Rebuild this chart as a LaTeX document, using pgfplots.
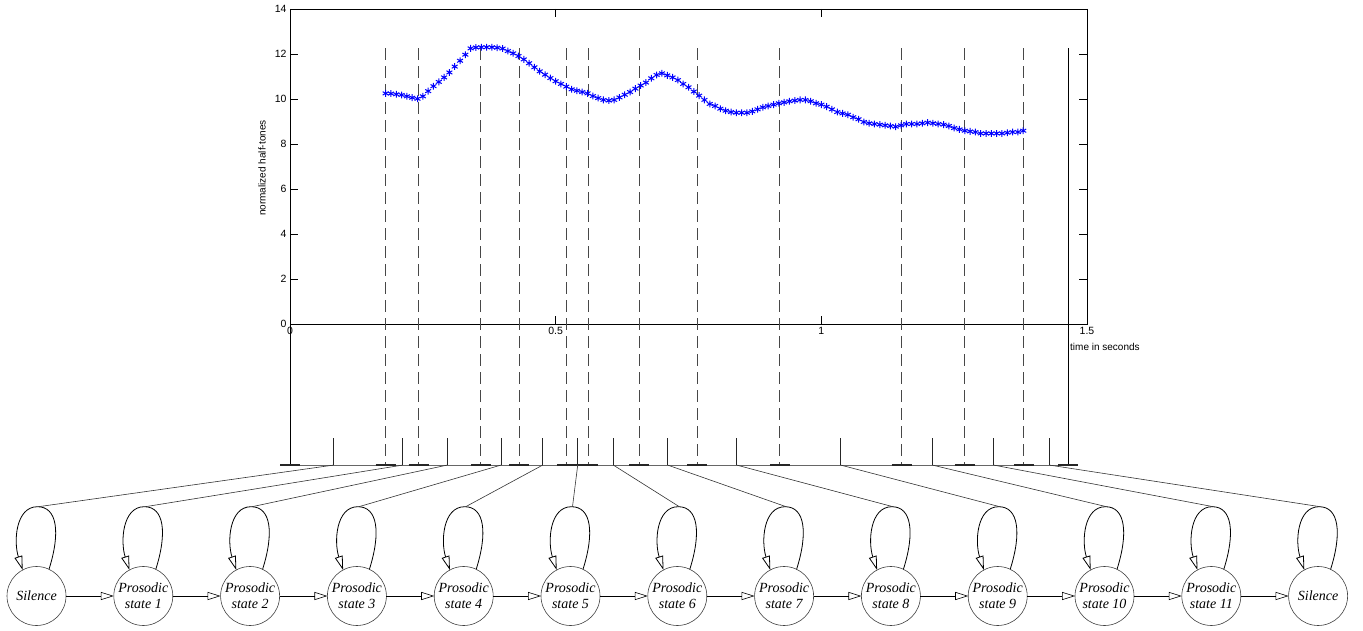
\documentclass[border=0pt]{standalone}
\usepackage{fontspec}
\setmainfont{Liberation Sans}
\newfontfamily\tnr{Liberation Serif}
\usepackage{pgfplots}
\pgfplotsset{compat=1.18}
\usepackage{pgfplotstable}
\usetikzlibrary{arrows.meta}

\pgfplotstableread{
t y
0.18 10.25
0.19 10.24
0.20 10.21
0.21 10.18
0.22 10.12
0.23 10.06
0.24 10.01
0.25 10.12
0.26 10.35
0.27 10.57
0.28 10.76
0.29 10.96
0.30 11.18
0.31 11.44
0.32 11.70
0.33 11.97
0.34 12.25
0.35 12.29
0.36 12.30
0.37 12.30
0.38 12.30
0.39 12.28
0.40 12.24
0.41 12.13
0.42 12.03
0.43 11.91
0.44 11.76
0.45 11.59
0.46 11.41
0.47 11.23
0.48 11.08
0.49 10.93
0.50 10.79
0.51 10.67
0.52 10.55
0.53 10.43
0.54 10.37
0.55 10.31
0.56 10.25
0.57 10.13
0.58 10.04
0.59 9.96
0.60 9.93
0.61 9.96
0.62 10.07
0.63 10.19
0.64 10.31
0.65 10.46
0.66 10.60
0.67 10.73
0.68 10.92
0.69 11.07
0.70 11.14
0.71 11.05
0.72 10.96
0.73 10.84
0.74 10.67
0.75 10.52
0.76 10.33
0.77 10.15
0.78 9.96
0.79 9.78
0.80 9.69
0.81 9.57
0.82 9.48
0.83 9.42
0.84 9.39
0.85 9.39
0.86 9.39
0.87 9.45
0.88 9.54
0.89 9.63
0.90 9.69
0.91 9.75
0.92 9.81
0.93 9.85
0.94 9.90
0.95 9.93
0.96 9.96
0.97 9.96
0.98 9.90
0.99 9.81
1.00 9.75
1.01 9.66
1.02 9.54
1.03 9.42
1.04 9.36
1.05 9.30
1.06 9.19
1.07 9.10
1.08 8.98
1.09 8.92
1.10 8.89
1.11 8.86
1.12 8.83
1.13 8.80
1.14 8.77
1.15 8.83
1.16 8.89
1.17 8.89
1.18 8.89
1.19 8.92
1.20 8.95
1.21 8.92
1.22 8.89
1.23 8.86
1.24 8.80
1.25 8.71
1.26 8.65
1.27 8.59
1.28 8.56
1.29 8.53
1.30 8.47
1.31 8.47
1.32 8.47
1.33 8.47
1.34 8.47
1.35 8.50
1.36 8.53
1.37 8.53
1.38 8.59
}\pitch

\begin{document}
\begin{tikzpicture}
\path[use as bounding box] (0,0) rectangle (1363pt,630pt);
\begin{axis}[
  at={(290pt,306pt)}, anchor=south west,
  scale only axis, width=797pt, height=315pt,
  xmin=0, xmax=1.5, ymin=0, ymax=14,
  xtick={0,0.5,1,1.5}, ytick={0,2,...,14},
  tick align=inside, major tick length=8pt,
  tick style={black, line width=0.7pt},
  axis line style={line width=0.8pt},
  ticklabel style={font=\fontsize{10.5}{12}\selectfont},
  /pgf/number format/assume math mode=true,
  clip=false,
]
% segment boundaries (dashed)
\pgfplotsinvokeforeach{0.180,0.242,0.359,0.431,0.521,0.561,0.657,0.766,0.922,1.151,1.270,1.381}{
  \draw[black!72, line width=0.9pt, dash pattern=on 12pt off 6pt] (axis cs:#1,12.25) -- (axis cs:#1,-6.27);
}
% solid end line and left extension
\draw[line width=0.8pt] (axis cs:1.465,12.25) -- (axis cs:1.465,-6.27);
\draw[line width=0.8pt] (axis cs:0,0) -- (axis cs:0,-6.27);
% baseline of segmentation
\draw[black!60, line width=0.7pt] (axis cs:-0.019,-6.27) -- (axis cs:1.48,-6.27);
\pgfplotsinvokeforeach{0,0.180,0.242,0.359,0.431,0.521,0.561,0.657,0.766,0.922,1.151,1.270,1.381,1.465}{
  \draw[black!85, line width=1.3pt] ([xshift=-10pt]axis cs:#1,-6.27) -- ([xshift=10pt]axis cs:#1,-6.27);
}
% segment mid ticks
\pgfplotsinvokeforeach{0.0822,0.2121,0.2960,0.3971,0.4756,0.5415,0.6085,0.7109,0.8407,1.0364,1.2089,1.3244,1.4291}{
  \draw[black!85, line width=0.7pt] (axis cs:#1,-6.27) -- (axis cs:#1,-5.05);
}
\coordinate (m0) at (axis cs:0.0822,-6.27);
\coordinate (m1) at (axis cs:0.2121,-6.27);
\coordinate (m2) at (axis cs:0.2960,-6.27);
\coordinate (m3) at (axis cs:0.3971,-6.27);
\coordinate (m4) at (axis cs:0.4756,-6.27);
\coordinate (m5) at (axis cs:0.5415,-6.27);
\coordinate (m6) at (axis cs:0.6085,-6.27);
\coordinate (m7) at (axis cs:0.7109,-6.27);
\coordinate (m8) at (axis cs:0.8407,-6.27);
\coordinate (m9) at (axis cs:1.0364,-6.27);
\coordinate (m10) at (axis cs:1.2089,-6.27);
\coordinate (m11) at (axis cs:1.3244,-6.27);
\coordinate (m12) at (axis cs:1.4291,-6.27);
\addplot[only marks, mark=asterisk, mark size=3.4pt, color=blue, mark options={line width=1pt}] table[x=t,y=y]{\pitch};
\end{axis}

\node[rotate=90, font=\fontsize{10}{12}\selectfont] at (262pt,462pt) {normalized half-tones};
\node[anchor=west, inner sep=0pt, font=\fontsize{10}{12}\selectfont] at (1070pt,283pt) {time in seconds};

% HMM states
\foreach \k/\lab in {0/{Silence},1/{Prosodic\\state 1},2/{Prosodic\\state 2},3/{Prosodic\\state 3},4/{Prosodic\\state 4},5/{Prosodic\\state 5},6/{Prosodic\\state 6},7/{Prosodic\\state 7},8/{Prosodic\\state 8},9/{Prosodic\\state 9},10/{Prosodic\\state 10},11/{Prosodic\\state 11},12/{Silence}}{
  \pgfmathsetmacro\cx{36.5+106.8*\k}
  \draw[black!75, line width=0.6pt] (\cx pt,34pt) circle (29.5pt);
  \node[align=center, inner sep=0pt, font=\tnr\itshape\fontsize{14}{16}\selectfont] at (\cx pt,34pt) {\lab};
  \draw[line width=0.8pt, -{Triangle[open,length=14pt,width=8pt]}] (\cx pt+12.5pt,60.7pt) .. controls (\cx pt+24pt,97pt) and (\cx pt+21pt,123.3pt) .. (\cx pt+1pt,123.3pt) .. controls (\cx pt-21pt,123.3pt) and (\cx pt-23pt,88pt) .. (\cx pt-13.8pt,60pt);
  \draw[black!80, line width=0.6pt] (m\k) -- (\cx pt+2pt,123.3pt);
}
\foreach \k in {0,...,11}{
  \pgfmathsetmacro\cx{36.5+106.8*\k}
  \draw[line width=0.6pt, -{Triangle[open,length=13pt,width=8pt]}] (\cx pt+29.5pt,34pt) -- (\cx pt+77.3pt,34pt);
}
\end{tikzpicture}
\end{document}
